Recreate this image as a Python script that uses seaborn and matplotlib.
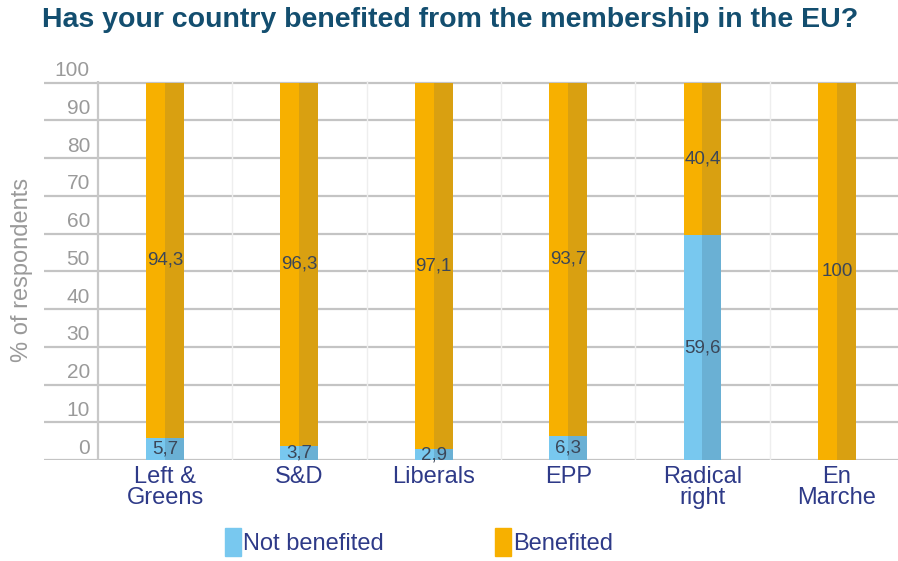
import matplotlib
matplotlib.use("Agg")
import matplotlib.pyplot as plt
import matplotlib.transforms as mtransforms
from matplotlib.patches import Patch
import seaborn as sns
import pandas as pd

parties = ["Left &\nGreens", "S&D", "Liberals", "EPP", "Radical\nright", "En\nMarche"]
not_benefited = [5.7, 3.7, 2.9, 6.3, 59.6, 0.0]
benefited = [94.3, 96.3, 97.1, 93.7, 40.4, 100.0]
y_ticks = [0, 10, 20, 30, 40, 50, 60, 70, 80, 90, 100]

ORANGE_L, ORANGE_R = "#F7B000", "#D9A011"
BLUE_L, BLUE_R = "#78C8EF", "#6AB0D4"
TEXT_DARK = "#2E3A88"
LABEL_COL = "#3B4658"

sns.set_theme(style="white")
plt.rcParams["font.family"] = ["Liberation Sans", "DejaVu Sans"]

rows = []
for p, nb, b in zip(parties, not_benefited, benefited):
    for half in ["L", "R"]:
        rows.append({"party": p, "half": half, "total": nb + b, "not_ben": nb})
df = pd.DataFrame(rows)

W, H = 898, 561
fig = plt.figure(figsize=(W / 100, H / 100), dpi=100)
ax = fig.add_axes([44 / W, 1 - 460 / H, (W - 44) / W, (460 - 81) / H])

bw = 38 / 134.5
sns.barplot(data=df, x="party", y="total", hue="half", order=parties,
            hue_order=["L", "R"], palette={"L": ORANGE_L, "R": ORANGE_R},
            width=bw, dodge=True, legend=False, ax=ax, linewidth=0,
            saturation=1, zorder=3)
sns.barplot(data=df, x="party", y="not_ben", hue="half", order=parties,
            hue_order=["L", "R"], palette={"L": BLUE_L, "R": BLUE_R},
            width=bw, dodge=True, legend=False, ax=ax, linewidth=0,
            saturation=1, zorder=4)

ax.set_xlim(-0.5 - 54 / 134.5, 5.5 - 6 / 134.5)
ax.set_ylim(0, 100.4)
for s in ax.spines.values():
    s.set_visible(False)

# horizontal gridlines
for t in y_ticks:
    ax.axhline(t, color="#C4C4C4", lw=1.6, zorder=1)
# faint vertical separators
for i in range(len(parties)):
    ax.axvline(i - 0.5, color="#C8C8C8" if i == 0 else "#EEEEEE",
               lw=1.6 if i == 0 else 1.0, zorder=1)

ax.set_yticks([])
ax.set_xticks(range(len(parties)))
ax.set_xticklabels(parties, fontsize=17, color=TEXT_DARK, linespacing=0.95)
ax.tick_params(axis="x", length=0, pad=4)
ax.set_xlabel("")
ax.set_ylabel("")

# y tick labels sitting above the gridlines
trans = mtransforms.blended_transform_factory(fig.transFigure, ax.transData)
for t in y_ticks:
    ax.text(90 / W, t + 0.6, str(t), transform=trans, ha="right", va="bottom",
            fontsize=15, color="#9A9A9A")

fig.text(22 / W, 1 - 270 / H, "% of respondents", rotation=90, ha="center",
         va="center", fontsize=17, color="#9A9A9A")

# value labels
for i, (nb, b) in enumerate(zip(not_benefited, benefited)):
    if nb > 0:
        ax.text(i, nb / 2, f"{nb:.1f}".replace(".", ","), ha="center",
                va="center", fontsize=13.5, color=LABEL_COL, zorder=5)
    lab = f"{b:.1f}".replace(".", ",") if b != 100 else "100"
    ax.text(i, nb + b / 2, lab, ha="center", va="center", fontsize=13.5,
            color=LABEL_COL, zorder=5)

fig.text(42 / W, 1 - 20 / H, "Has your country benefited from the membership in the EU?",
         ha="left", va="center", fontsize=20.5, fontweight="bold", color="#134E6F")

handles = [Patch(color=BLUE_L, label="Not benefited"),
           Patch(color=ORANGE_L, label="Benefited")]
fig.legend(handles=handles, loc="center left", bbox_to_anchor=(225 / W, 1 - 542 / H),
           ncol=2, frameon=False, fontsize=17, handlelength=0.68, handleheight=1.45,
           handletextpad=0.08, columnspacing=4.72, labelcolor=TEXT_DARK,
           borderpad=0, borderaxespad=0)

fig.savefig("out.png", dpi=100)
